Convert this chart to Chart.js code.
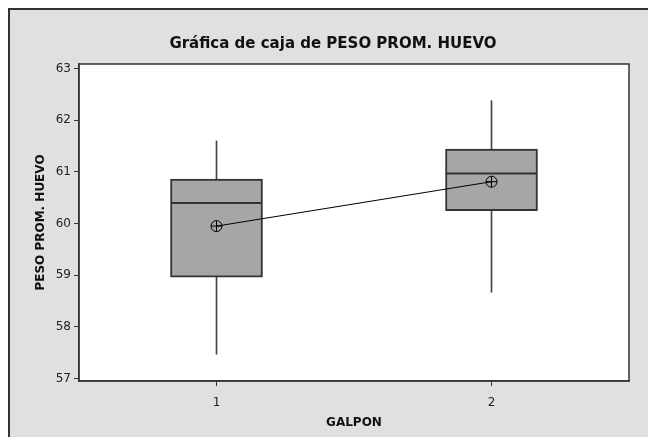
<!DOCTYPE html>
<html>
<head>
<meta charset="utf-8">
<script src="https://cdn.jsdelivr.net/npm/chart.js@4"></script>
<style>
  body { margin: 0; background: #fff; }
  .frame {
    position: absolute; left: 8px; top: 8px;
    width: 640px; height: 429px;
    border-left: 2px solid #333; border-top: 2px solid #333;
    background: #e0e0e0;
  }
  .frame canvas { display: block; }
</style>
</head>
<body>
<div class="frame"><canvas id="boxChart" width="638" height="427"></canvas></div>
<script>
// values (GALPON 1 and 2)
const categories = [1, 2];
const whiskerLow = [57.47, 58.67];
const q1 = [58.96, 60.25];
const median = [60.40, 60.97];
const q3 = [60.86, 61.44];
const whiskerHigh = [61.60, 62.38];
const means = [59.95, 60.81];
const yTicks = [57, 58, 59, 60, 61, 62, 63];

const font = 'DejaVu Sans, Verdana, sans-serif';

// white plot area + frame around it
const plotBorder = {
    id: 'plotBorder',
    beforeDraw(chart) {
        const a = chart.chartArea;
        chart.ctx.save();
        chart.ctx.fillStyle = '#fff';
        chart.ctx.fillRect(a.left, a.top, a.right - a.left, a.bottom - a.top);
        chart.ctx.restore();
    },
    afterDatasetsDraw(chart) {
        const a = chart.chartArea;
        const ctx = chart.ctx;
        ctx.save();
        ctx.strokeStyle = '#333';
        ctx.lineWidth = 1.5;
        ctx.strokeRect(a.left, a.top, a.right - a.left, a.bottom - a.top);
        ctx.restore();
    }
};

var ctx = document.getElementById('boxChart').getContext('2d');
var boxChart = new Chart(ctx, {
    data: {
        datasets: [
            {
                type: 'bar',
                label: 'whisker',
                data: categories.map((c, i) => ({x: c, y: [whiskerLow[i], whiskerHigh[i]]})),
                backgroundColor: '#444',
                barThickness: 1,
                grouped: false,
                order: 5
            },
            {
                type: 'bar',
                label: 'box',
                data: categories.map((c, i) => ({x: c, y: [q1[i], q3[i]]})),
                backgroundColor: '#a6a6a6',
                borderColor: '#333',
                borderWidth: 2,
                borderSkipped: false,
                barThickness: 92,
                grouped: false,
                order: 4
            },
            {
                type: 'line',
                label: 'median',
                data: categories.map((c, i) => ({x: c, y: median[i]})),
                showLine: false,
                pointStyle: 'line',
                pointRadius: 45,
                pointBorderWidth: 2,
                pointBorderColor: '#333',
                order: 3
            },
            {
                type: 'line',
                label: 'mean',
                data: categories.map((c, i) => ({x: c, y: means[i]})),
                borderColor: '#000',
                borderWidth: 1,
                pointStyle: 'circle',
                pointRadius: 5.5,
                pointBorderWidth: 1,
                pointBorderColor: '#000',
                pointBackgroundColor: 'rgba(0,0,0,0)',
                order: 2
            },
            {
                type: 'line',
                label: 'meanCross',
                data: categories.map((c, i) => ({x: c, y: means[i]})),
                showLine: false,
                pointStyle: 'cross',
                pointRadius: 5.5,
                pointBorderWidth: 1,
                pointBorderColor: '#000',
                order: 1
            }
        ]
    },
    options: {
        responsive: false,
        animation: false,
        layout: { autoPadding: false, padding: { left: 27, right: 19, top: 0, bottom: 0 } },
        plugins: {
            legend: { display: false },
            tooltip: { enabled: false },
            title: {
                display: true,
                text: 'Gráfica de caja de PESO PROM. HUEVO',
                color: '#111',
                font: { family: font, size: 15, weight: 'bold', lineHeight: 1.2 },
                padding: { top: 25, bottom: 11 }
            }
        },
        scales: {
            x: {
                type: 'linear',
                min: 0.5,
                max: 2.5,
                offset: false,
                afterBuildTicks: s => { s.ticks = categories.map(v => ({value: v})); },
                afterFit: s => { s.height = 56; },
                grid: { drawOnChartArea: false, offset: false, tickLength: 5, color: '#333' },
                border: { display: true, color: '#333', width: 1.5 },
                ticks: { color: '#222', padding: 10, font: { family: font, size: 12 } },
                title: {
                    display: true,
                    text: 'GALPON',
                    color: '#111',
                    font: { family: font, size: 12, weight: 'bold', lineHeight: 1.2 },
                    padding: { top: 0, bottom: 7 }
                }
            },
            y: {
                type: 'linear',
                min: 56.95,
                max: 63.09,
                afterBuildTicks: s => { s.ticks = yTicks.map(v => ({value: v})); },
                afterFit: s => { s.width = 42; },
                grid: { drawOnChartArea: false, tickLength: 5, color: '#333' },
                border: { display: true, color: '#333', width: 1.5 },
                ticks: { color: '#222', padding: 3, font: { family: font, size: 12 } },
                title: {
                    display: true,
                    text: 'PESO PROM. HUEVO',
                    color: '#111',
                    font: { family: font, size: 12, weight: 'bold', lineHeight: 1.2 },
                    padding: { top: -3, bottom: 0 }
                }
            }
        }
    },
    plugins: [plotBorder]
});
</script>
</body>
</html>
